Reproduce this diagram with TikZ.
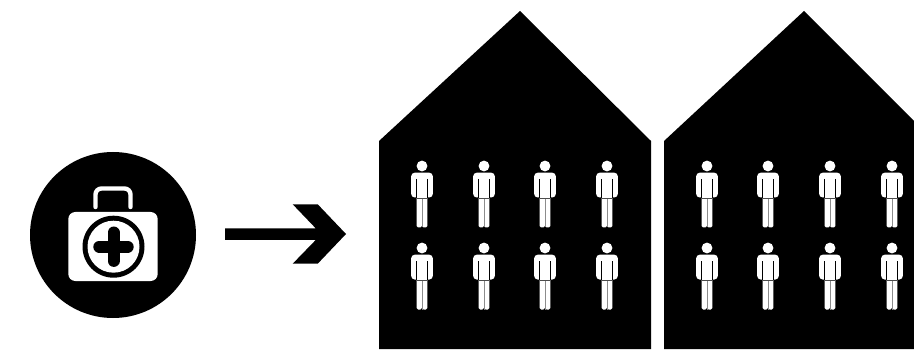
\documentclass[tikz,border=0pt]{standalone}
\tikzset{
  solid black/.style={fill=black,draw=none},
  solid white/.style={fill=white,draw=none},
  person/.pic={
    \fill[white] (0,0) circle (5.4);
    % torso with shoulders
    \fill[white,rounded corners=3.5pt] (-10.8,31.5) -- (-10.8,6.7) -- (10.8,6.7) -- (10.8,31.5) -- cycle;
    \fill[white] (-5.4,20) rectangle (5.4,33);
    % legs
    \fill[white,rounded corners=1.5pt] (-5.4,30) -- (-5.4,61.5) -- (-0.1,61.5) -- (-0.1,30) -- cycle;
    \fill[white,rounded corners=1.5pt] (0.1,30) -- (0.1,61.5) -- (5.4,61.5) -- (5.4,30) -- cycle;
    % gaps
    \draw[black,line width=.8pt] (-5.8,13) -- (-5.8,32);
    \draw[black,line width=.8pt] (5.8,13) -- (5.8,32);
    \draw[black!70,line width=.6pt] (-5.4,32.2) -- (5.4,32.2);
    \draw[black!45,line width=.9pt] (0,33) -- (0,61.5);
  }
}
\begin{document}
\begin{tikzpicture}[x=1pt,y=-1pt]
\useasboundingbox (0,0) rectangle (914,350);
\fill[white] (0,0) rectangle (914,350);
% medical kit
\fill[solid black] (113,235) circle (83);
\draw[white,line width=4.4pt,line cap=round,rounded corners=6pt] (95.5,207) -- (95.5,188.5) -- (130.5,188.5) -- (130.5,207);
\fill[solid white,rounded corners=7pt] (68.3,212) rectangle (157.7,281);
\fill[solid black] (113.5,246.7) circle (31);
\fill[solid white] (113.5,246.7) circle (26);
\draw[black,line width=12pt,line cap=round] (113.5,232.5) -- (113.5,260.9);
\draw[black,line width=12pt,line cap=round] (99.3,246.7) -- (127.7,246.7);
% arrow
\fill[solid black] (225,228.3) -- (315.7,228.3) -- (292.7,204.3) -- (317.7,204.3) -- (346,234) -- (317.7,263.7) -- (292.7,263.7) -- (315.7,240) -- (225,240) -- cycle;
% houses
\fill[solid black] (379,349) -- (379,141) -- (520,11) -- (651,141) -- (651,349) -- cycle;
\fill[solid black] (664,349) -- (664,141) -- (804,11) -- (934,141) -- (934,349) -- cycle;
% people
\foreach \px in {422,484,545,607,707,768,830,892}
  \foreach \py in {166,248}
    \pic at (\px,\py) {person};
\end{tikzpicture}
\end{document}
